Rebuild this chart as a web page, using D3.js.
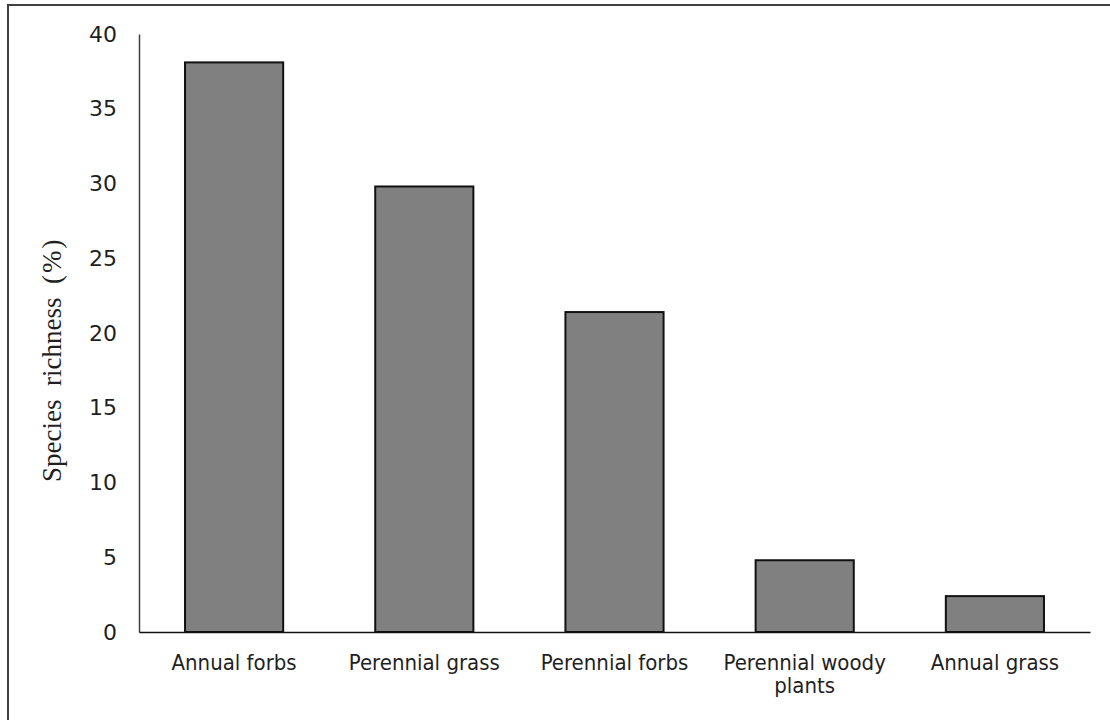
<!DOCTYPE html>
<html>
<head>
<meta charset="utf-8">
<script src="https://cdn.jsdelivr.net/npm/d3@7"></script>
<style>
  body { margin: 0; background: #fff; }
</style>
</head>
<body>
<div id="chart"></div>
<script>
// species richness by plant group

const categories = ["Annual forbs", "Perennial grass", "Perennial forbs", "Perennial woody plants", "Annual grass"];
const values = [38.1, 29.8, 21.4, 4.8, 2.4];
const yTicks = [0, 5, 10, 15, 20, 25, 30, 35, 40];
const yTitle = "Species\u00a0\u00a0richness\u00a0\u00a0";
const yUnit = "(%)";

const width = 1110,
      height = 720,
      margin = ({ top: 34, right: 20, bottom: 88, left: 139 });

let svg = d3.select("#chart")
    .append("svg")
    .attr("width", width)
    .attr("height", height);

// outer frame (runs off the right and bottom edge like the original)
svg.append("rect")
    .attr("x", 8)
    .attr("y", 5)
    .attr("width", width + 20)
    .attr("height", height + 20)
    .attr("fill", "none")
    .attr("stroke", "#404040")
    .attr("stroke-width", 2);

let x = d3.scaleBand()
    .domain(categories)
    .range([margin.left, 1090])
    .paddingInner(0.484)
    .paddingOuter(0.242);

let y = d3.scaleLinear()
    .domain([0, 40])
    .range([height - margin.bottom, margin.top]);

// bars
svg.selectAll(".bar")
    .data(categories)
    .join("rect")
    .attr("class", "bar")
    .attr("x", d => x(d))
    .attr("width", x.bandwidth())
    .attr("y", (d, i) => y(values[i]))
    .attr("height", (d, i) => y(0) - y(values[i]))
    .attr("fill", "#808080")
    .attr("stroke", "#111")
    .attr("stroke-width", 2);

// y axis
let yAxis = svg.append("g")
    .attr("transform", `translate(${margin.left}, 0)`)
    .call(d3.axisLeft(y).tickValues(yTicks).tickSize(0).tickPadding(22));

yAxis.select(".domain")
    .attr("stroke", "#404040")
    .attr("stroke-width", 1.5);

yAxis.selectAll("text")
    .attr("font-family", "'DejaVu Sans', sans-serif")
    .attr("font-size", 22)
    .attr("fill", "#1f1f1f");

// x axis
let xAxis = svg.append("g")
    .attr("transform", `translate(0, ${y(0)})`)
    .call(d3.axisBottom(x).tickSize(0).tickPadding(0).tickFormat(""));

xAxis.select(".domain")
    .attr("stroke", "#111")
    .attr("stroke-width", 1.5);

// category labels, wrapped when wider than a band
let labels = svg.append("g")
    .selectAll("text")
    .data(categories)
    .join("text")
    .attr("x", d => x(d) + x.bandwidth() / 2)
    .attr("y", y(0) + 38)
    .attr("text-anchor", "middle")
    .attr("font-family", "'DejaVu Sans Condensed', 'DejaVu Sans', sans-serif")
    .attr("font-size", 22)
    .attr("fill", "#1f1f1f");

labels.each(function(d) {
    let t = d3.select(this);
    let words = d.split(" ");
    let line = [];
    let tspan = t.append("tspan").attr("x", t.attr("x")).attr("dy", 0);
    for (let w of words) {
        line.push(w);
        tspan.text(line.join(" "));
        if (tspan.node().getComputedTextLength() > x.step() - 10 && line.length > 1) {
            line.pop();
            tspan.text(line.join(" "));
            line = [w];
            tspan = t.append("tspan").attr("x", t.attr("x")).attr("dy", 23).text(w);
        }
    }
});

// y axis title, pinned at its lower end
let title = svg.append("text")
    .attr("transform", `translate(61, 482) rotate(-90)`)
    .attr("text-anchor", "start")
    .attr("font-family", "'Liberation Serif', 'Times New Roman', serif")
    .attr("font-size", 27)
    .attr("fill", "#1f1f1f");

title.append("tspan").text(yTitle);
title.append("tspan")
    .attr("letter-spacing", 2)
    .text(yUnit);
</script>
</body>
</html>
